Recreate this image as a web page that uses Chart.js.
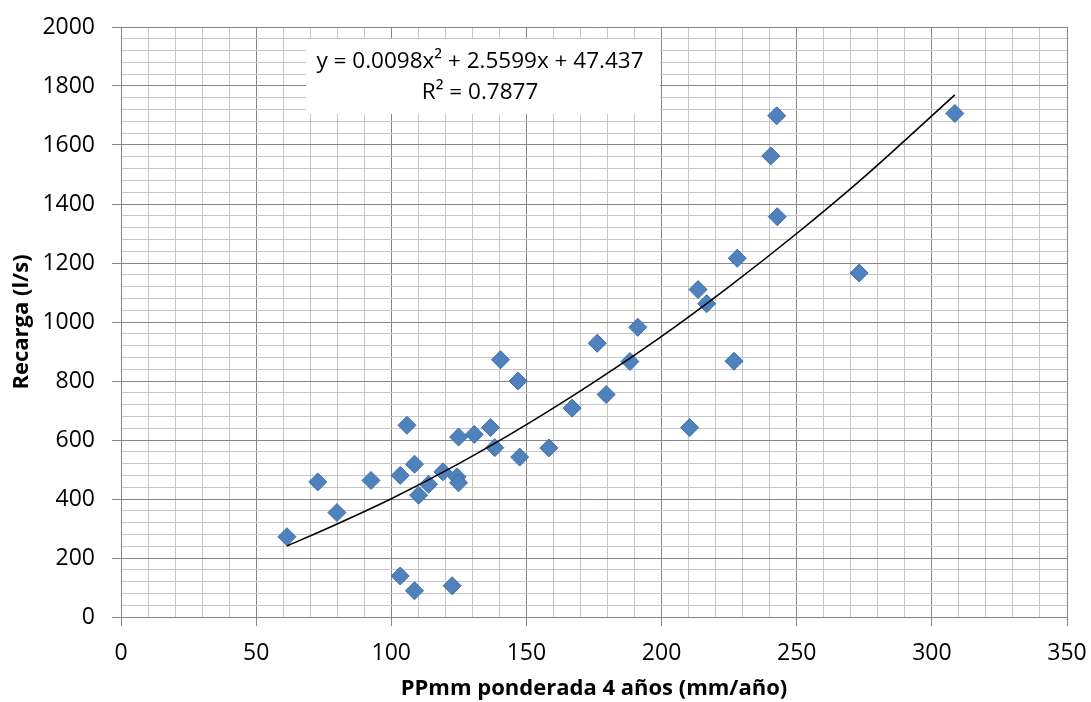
<!DOCTYPE html>
<html>
<head>
<meta charset="utf-8">
<script src="https://cdn.jsdelivr.net/npm/chart.js@4.4.1/dist/chart.umd.min.js"></script>
<style>
  body { margin: 0; background: #fff; }
  #wrap { width: 1091px; height: 702px; }
</style>
</head>
<body>
<div id="wrap"><canvas id="chart" width="1091" height="702"></canvas></div>
<script>
// PPmm ponderada (mm/año) vs recarga (l/s)
const ppmm = [61.4, 72.8, 79.9, 92.5, 103.3, 105.8, 108.6, 110.1, 113.8, 119.1,
  124.3, 124.9, 124.9, 130.7, 136.7, 138.3, 140.4, 146.9, 147.5, 158.3,
  103.3, 108.6, 122.5, 166.9, 176.2, 179.5, 188.3, 191.2, 210.4, 213.5,
  216.7, 226.8, 228.0, 240.4, 242.6, 242.8, 273.1, 308.5];
const recarga = [272, 458, 354, 463, 480, 650, 518, 413, 450, 492,
  475, 455, 610, 619, 642, 574, 872, 800, 542, 573,
  139, 89, 106, 708, 928, 754, 866, 982, 642, 1110,
  1062, 867, 1216, 1563, 1699, 1357, 1166, 1707];

// polynomial trend line
const trendX = [61.4, 75, 100, 125, 150, 175, 200, 225, 250, 275, 308.5];
const trendY = [241, 295, 401, 520, 652, 796, 951, 1120, 1300, 1492, 1770];

const eqLines = ["y = 0.0098x\u00b2 + 2.5599x + 47.437", "R\u00b2 = 0.7877"];

const xMajor = 50;
const yMajor = 200;

const FONT = "'Open Sans', 'Noto Sans', sans-serif";
const MAJOR = "#878787";
const MINOR = "#c6c6c6";

const equationBox = {
  id: "equationBox",
  afterDraw(chart) {
    const ctx = chart.ctx;
    ctx.save();
    ctx.fillStyle = "#fff";
    ctx.fillRect(306, 39, 354, 75);
    ctx.fillStyle = "#000";
    ctx.font = `22.5px ${FONT}`;
    ctx.textAlign = "center";
    ctx.textBaseline = "middle";
    ctx.fillText(eqLines[0], 480, 62);
    ctx.fillText(eqLines[1], 480, 93);
    ctx.restore();
  },
};

const gridColor = (major) => (ctx) =>
  ctx.tick && ctx.tick.value % major === 0 ? MAJOR : MINOR;
const tickColor = (major) => (ctx) =>
  ctx.tick && ctx.tick.value % major === 0 ? MAJOR : "rgba(0,0,0,0)";

// pin the plot area: drop the label overflow padding chart.js adds
const pinAxis = (size) => (s) => {
  if (s.isHorizontal()) s.height = size;
  else s.width = size;
  s.paddingLeft = s.paddingRight = s.paddingTop = s.paddingBottom = 0;
};

new Chart(document.getElementById("chart"), {
  type: "scatter",
  data: {
    datasets: [
      {
        type: "line",
        label: "trend",
        data: trendX.map((x, i) => ({ x, y: trendY[i] })),
        borderColor: "#000",
        borderWidth: 1.6,
        pointRadius: 0,
        fill: false,
        cubicInterpolationMode: "monotone",
      },
      {
        label: "Recarga",
        data: ppmm.map((x, i) => ({ x, y: recarga[i] })),
        pointStyle: "rectRot",
        pointRadius: 9,
        backgroundColor: "#4f81bd",
        borderColor: "#3d6ea8",
        borderWidth: 1,
      },
    ],
  },
  options: {
    responsive: false,
    animation: false,
    events: [],
    layout: { padding: { top: 27, right: 24, left: 0, bottom: 0 } },
    plugins: { legend: { display: false }, tooltip: { enabled: false } },
    scales: {
      x: {
        type: "linear",
        min: 0,
        max: 350,
        afterFit: pinAxis(85),
        ticks: {
          stepSize: 10,
          autoSkip: false,
          maxRotation: 0,
          padding: 14,
          color: "#000",
          font: { family: FONT, size: 23 },
          callback: (v) => (v % xMajor === 0 ? v : ""),
        },
        grid: {
          color: gridColor(xMajor),
          tickColor: tickColor(xMajor),
          tickLength: 9,
          lineWidth: 1,
        },
        border: { color: MAJOR, width: 1 },
        title: {
          display: true,
          text: "PPmm ponderada 4 años (mm/año)",
          color: "#000",
          font: { family: FONT, size: 22, weight: "bold" },
          padding: { top: 0, bottom: 0 },
        },
      },
      y: {
        type: "linear",
        min: 0,
        max: 2000,
        afterFit: pinAxis(121),
        ticks: {
          stepSize: 40,
          autoSkip: false,
          padding: 17,
          color: "#000",
          font: { family: FONT, size: 23 },
          callback: (v) => (v % yMajor === 0 ? v : ""),
        },
        grid: {
          color: gridColor(yMajor),
          tickColor: tickColor(yMajor),
          tickLength: 9,
          lineWidth: 1,
        },
        border: { color: MAJOR, width: 1 },
        title: {
          display: true,
          text: "Recarga (l/s)",
          color: "#000",
          font: { family: FONT, size: 22, weight: "bold" },
          padding: { top: 9, bottom: 0 },
        },
      },
    },
  },
  plugins: [equationBox],
});
</script>
</body>
</html>
